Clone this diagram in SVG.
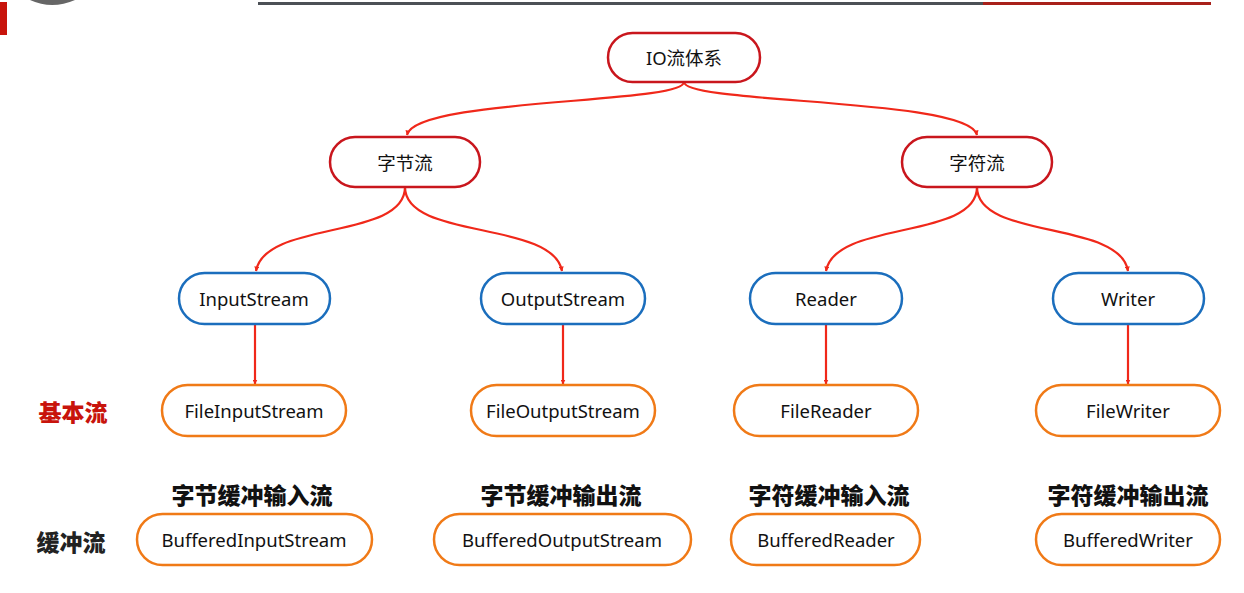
<svg xmlns="http://www.w3.org/2000/svg" width="1244" height="593" viewBox="0 0 1244 593">
<defs>
<style>
.n rect{fill:#fff;stroke-width:2.5}
.red rect{stroke:#c9161d}
.blue rect{stroke:#1b6ebd}
.org rect{stroke:#f07a17}
.n text{font-family:"Noto Sans","Noto Sans CJK SC",sans-serif;font-size:18.5px;fill:#111;text-anchor:middle;dominant-baseline:central}
.lab{font-family:"Noto Sans CJK SC",sans-serif;font-weight:900;font-size:23px;text-anchor:middle;dominant-baseline:central}
#conn path{fill:none;stroke:#f0281a;stroke-width:2.2}
</style>
<marker id="ah" viewBox="0 0 10 10" refX="9" refY="5" markerWidth="5" markerHeight="5" orient="auto-start-reverse" markerUnits="userSpaceOnUse">
<path d="M0,0 L10,5 L0,10 Z" fill="#f0281a"/>
</marker>
</defs>
<rect width="1244" height="593" fill="#fff"/>
<g id="decor">
<rect x="0" y="2" width="7" height="33" fill="#c8140c"/>
<path d="M30,0 Q52,10 75,0 Z" fill="#666"/>
<rect x="258" y="2" width="725" height="3" fill="#4c5056"/>
<rect x="983" y="2" width="228" height="3" fill="#a8201a"/>
</g>
<g id="conn">
<path d="M684,82 C684,104 415,98 407,135" marker-end="url(#ah)"/>
<path d="M684,82 C684,104 969,98 977,135" marker-end="url(#ah)"/>
<path d="M405,187 C405,240 265,220 256,271" marker-end="url(#ah)"/>
<path d="M405,187 C405,240 553,220 562,271" marker-end="url(#ah)"/>
<path d="M977,187 C977,240 835,220 826,271" marker-end="url(#ah)"/>
<path d="M977,187 C977,240 1120,220 1128,271" marker-end="url(#ah)"/>
<path d="M255,324 L255,384" marker-end="url(#ah)"/>
<path d="M563,324 L563,384" marker-end="url(#ah)"/>
<path d="M826,324 L826,384" marker-end="url(#ah)"/>
<path d="M1128,324 L1128,384" marker-end="url(#ah)"/>
</g>
<g id="io" class="n red"><rect x="608" y="33" width="152" height="49" rx="24.5"/><text x="684" y="57">IO流体系</text></g>
<g id="byte" class="n red"><rect x="330" y="137" width="150" height="50" rx="25"/><text x="405" y="162">字节流</text></g>
<g id="char" class="n red"><rect x="902" y="137" width="150" height="50" rx="25"/><text x="977" y="162">字符流</text></g>
<g id="inputstream" class="n blue"><rect x="179" y="273" width="151" height="51" rx="25.5"/><text x="254" y="298">InputStream</text></g>
<g id="outputstream" class="n blue"><rect x="481" y="273" width="164" height="51" rx="25.5"/><text x="563" y="298">OutputStream</text></g>
<g id="reader" class="n blue"><rect x="750" y="273" width="152" height="51" rx="25.5"/><text x="826" y="298">Reader</text></g>
<g id="writer" class="n blue"><rect x="1053" y="273" width="151" height="51" rx="25.5"/><text x="1128" y="298">Writer</text></g>
<g id="fileinputstream" class="n org"><rect x="162" y="385" width="184" height="51" rx="25.5"/><text x="254" y="410">FileInputStream</text></g>
<g id="fileoutputstream" class="n org"><rect x="471" y="385" width="184" height="51" rx="25.5"/><text x="563" y="410">FileOutputStream</text></g>
<g id="filereader" class="n org"><rect x="734" y="385" width="184" height="51" rx="25.5"/><text x="826" y="410">FileReader</text></g>
<g id="filewriter" class="n org"><rect x="1036" y="385" width="184" height="51" rx="25.5"/><text x="1128" y="410">FileWriter</text></g>
<g id="bufferedinputstream" class="n org"><rect x="137" y="514" width="235" height="51" rx="25.5"/><text x="254" y="539">BufferedInputStream</text></g>
<g id="bufferedoutputstream" class="n org"><rect x="434" y="514" width="257" height="51" rx="25.5"/><text x="562" y="539">BufferedOutputStream</text></g>
<g id="bufferedreader" class="n org"><rect x="731" y="514" width="189" height="51" rx="25.5"/><text x="826" y="539">BufferedReader</text></g>
<g id="bufferedwriter" class="n org"><rect x="1036" y="514" width="184" height="51" rx="25.5"/><text x="1128" y="539">BufferedWriter</text></g>
<g id="labels">
<text class="lab" x="73" y="411" fill="#c8140c">基本流</text>
<text class="lab" x="71" y="541" fill="#222">缓冲流</text>
<text class="lab" x="252" y="494" fill="#111">字节缓冲输入流</text>
<text class="lab" x="561" y="494" fill="#111">字节缓冲输出流</text>
<text class="lab" x="829" y="494" fill="#111">字符缓冲输入流</text>
<text class="lab" x="1128" y="494" fill="#111">字符缓冲输出流</text>
</g>
</svg>
